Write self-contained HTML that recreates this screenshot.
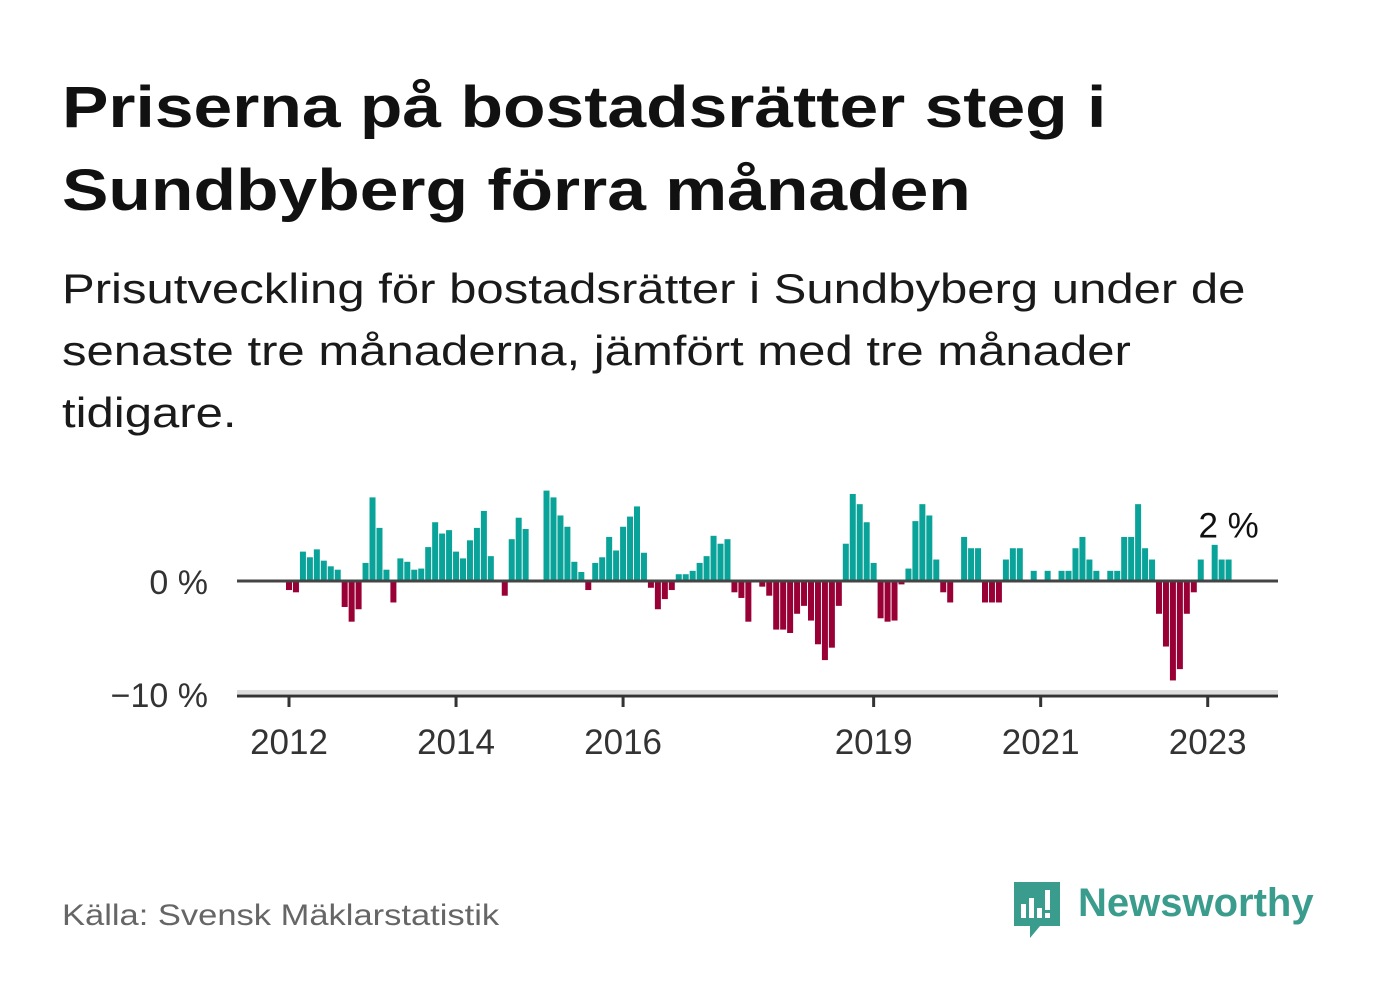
<!DOCTYPE html>
<html><head><meta charset="utf-8"><style>
body{margin:0;background:#fff;width:1382px;height:999px;overflow:hidden;font-family:"Liberation Sans",sans-serif;position:relative}
.t{position:absolute;left:62px;top:66px;font-size:58px;font-weight:bold;color:#111;line-height:83px;margin:0;white-space:nowrap;transform:scaleX(1.2);transform-origin:0 0}
.s{position:absolute;left:62px;top:258px;font-size:42px;color:#1a1a1a;line-height:62px;white-space:nowrap;transform:scaleX(1.168);transform-origin:0 0}
.src{position:absolute;left:62px;top:899px;font-size:30px;color:#666;white-space:nowrap;transform:scaleX(1.15);transform-origin:0 0}
</style></head><body>
<h1 class="t">Priserna på bostadsrätter steg i<br>Sundbyberg förra månaden</h1>
<div class="s">Prisutveckling för bostadsrätter i Sundbyberg under de<br>senaste tre månaderna, jämfört med tre månader<br>tidigare.</div>
<svg id="chart" width="1382" height="999" style="position:absolute;left:0;top:0" font-family="Liberation Sans, sans-serif"></svg>
<div class="src">Källa: Svensk Mäklarstatistik</div>
<div style="position:absolute;left:1012px;top:880px;width:310px;height:60px">
<svg width="50" height="60" style="position:absolute;left:0;top:0"><path d="M2 2h46v44H28l-10 12v-12H2z" fill="#3a9c8c"/><rect x="9" y="24" width="5" height="14" fill="#fff"/><rect x="17" y="18" width="5" height="20" fill="#fff"/><rect x="25" y="28" width="5" height="10" fill="#fff"/><rect x="33" y="10" width="5" height="20" fill="#fff"/><rect x="33" y="33" width="5" height="5" fill="#fff"/></svg>
<span style="position:absolute;left:66px;top:1px;font-size:40px;font-weight:bold;color:#3a9c8c">Newsworthy</span></div>
<script>
const values=[-0.8,-1.0,2.6,2.1,2.8,1.8,1.3,1.0,-2.3,-3.6,-2.5,1.6,7.4,4.7,1.0,-1.9,2.0,1.7,1.0,1.1,3.0,5.2,4.2,4.5,2.6,2.0,3.6,4.7,6.2,2.2,0,-1.3,3.7,5.6,4.6,0,0,8.0,7.4,5.8,4.8,1.7,0.8,-0.8,1.6,2.1,3.9,2.7,4.8,5.7,6.6,2.5,-0.6,-2.5,-1.6,-0.8,0.6,0.6,0.9,1.6,2.2,4.0,3.3,3.7,-1.0,-1.5,-3.6,0,-0.5,-1.3,-4.3,-4.3,-4.6,-2.9,-2.2,-3.5,-5.6,-7.0,-5.9,-2.2,3.3,7.7,6.8,5.2,1.6,-3.3,-3.6,-3.5,-0.3,1.1,5.3,6.8,5.8,1.9,-1.0,-1.9,0,3.9,2.9,2.9,-1.9,-1.9,-1.9,1.9,2.9,2.9,0,0.9,0,0.9,0,0.9,0.9,2.9,3.9,1.9,0.9,0,0.9,0.9,3.9,3.9,6.8,2.9,1.9,-2.9,-5.8,-8.8,-7.8,-2.9,-1.0,1.9,0,3.2,1.9,1.9];
const startYear=2012;
const yTicks=[0,-10];
const yTickLabels=["0 %","−10 %"];
const xTickYears=[2012,2014,2016,2019,2021,2023];
const lastLabel="2 %";
const NS="http://www.w3.org/2000/svg";
const svg=document.getElementById('chart');
const x=i=>289+i*6.96;
const xy=yr=>x((yr-startYear)*12);
const y=v=>581-v*11.3;
function mk(t,a){const e=document.createElementNS(NS,t);for(const k in a)e.setAttribute(k,a[k]);svg.appendChild(e);return e;}
let band=mk('rect',{x:237,y:690,width:1041,height:4,fill:'#ddd'});


values.forEach((v,i)=>{if(!v)return;
 const r=mk('rect',{x:x(i)-3,y:Math.min(y(v),y(0)),width:6,height:Math.abs(y(v)-y(0)),fill:v>0?'#0aa39a':'#990036'});
 
 
});
let zl=mk('line',{x1:237,x2:1278,y1:y(0),y2:y(0),stroke:'#444','stroke-width':3});


let ax=mk('line',{x1:237,x2:1278,y1:696,y2:696,stroke:'#333','stroke-width':3});


yTicks.forEach((t,k)=>{const e=mk('text',{x:208,y:(t===0?y(t):694)+13,'text-anchor':'end','font-size':34,fill:'#333'});e.textContent=yTickLabels[k];
 
 });
xTickYears.forEach(yr=>{const xx=xy(yr);
 const l=mk('line',{x1:xx,x2:xx,y1:696,y2:707,stroke:'#333','stroke-width':3});
 
 
 const e=mk('text',{x:xx,y:754,'text-anchor':'middle','font-size':35,fill:'#333'});e.textContent=yr;
 
 });
const li=values.length-1;
const lab=mk('text',{x:x(li),y:y(values[li])-22,'text-anchor':'middle','font-size':35,fill:'#111'});
lab.textContent=lastLabel;


</script>
</body></html>
